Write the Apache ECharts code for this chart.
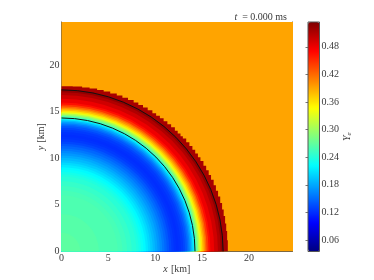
<!DOCTYPE html>
<html><head><meta charset="utf-8">
<style>html,body{margin:0;padding:0;background:#fff}#c{width:374px;height:280px}</style>
<script src="https://cdn.jsdelivr.net/npm/echarts@6/dist/echarts.min.js"></script>
</head><body><div id="c"></div>
<script>
// Radial Ye profile, outermost band first: outer radius of each band (km), and its Ye
const bandRadii = [17.3,17.0,16.7,16.3,15.9,15.7,15.5,15.35,15.2,15.05,14.9,14.75,14.6,14.45,14.3,14.15,14.0,13.85,13.7,13.55,13.4,13.2,13.0,12.75,12.5,12.25,12.0,11.75,11.5,11.25,11.0,10.75,10.5,10.25,10.0,9.75,9.5,9.25,9.0,8.75,8.5,8.25,8.0,7.5,7.0,6.5,6.0,4.0,2.0];
const bandYe    = [0.525,0.51,0.495,0.48,0.465,0.445,0.42,0.40,0.38,0.36,0.335,0.31,0.285,0.26,0.235,0.21,0.19,0.175,0.16,0.15,0.14,0.132,0.126,0.122,0.12,0.122,0.126,0.132,0.14,0.148,0.156,0.164,0.172,0.18,0.188,0.196,0.204,0.212,0.22,0.226,0.232,0.237,0.242,0.248,0.253,0.257,0.26,0.264,0.268];
// Ye outside the star and of the jagged outer shell
const ambientYe = [0.391];
const shellYe = [0.515];
// Jagged outer edge of the shell (km)
const edgeX = [0,1.2,2.2,3.0,3.8,4.5,5.2,5.9,6.5,7.1,7.7,8.2,8.7,9.2,9.7,10.1,10.5,10.9,11.3,11.7,12.1,12.4,12.7,12.95,13.31,13.65,13.97,14.27,14.56,14.83,15.15,15.44,15.71,15.96,16.24,16.48,16.71,16.94,17.14,17.31,17.46,17.58,17.68,17.75];
const edgeY = [17.72,17.68,17.58,17.46,17.31,17.14,16.94,16.71,16.48,16.24,15.96,15.71,15.44,15.15,14.83,14.56,14.27,13.97,13.65,13.31,12.95,12.66,12.36,12.1,11.7,11.3,10.9,10.5,10.1,9.7,9.2,8.7,8.2,7.7,7.1,6.5,5.9,5.2,4.5,3.8,3.0,2.2,1.2,0];
// Contour radii (km)
const contourRadii = [17.25,14.25];
const xTicks = [0,5,10,15,20];
const yTicks = [0,5,10,15,20];
const colorTicks = [0.06,0.12,0.18,0.24,0.30,0.36,0.42,0.48];
const jet = ['#00007f','#0000ff','#007fff','#00ffff','#7fff7f','#ffff00','#ff7f00','#ff0000','#7f0000'];
const yeMin = 0.035, yeMax = 0.534, spanKm = 24.6;

const FONT = 'Liberation Serif', INK = '#3a3a3a', FRAME = '#555';
const labelStyle = {fontFamily:FONT,fontSize:10,color:INK};
const nameRich = {i:{fontFamily:FONT,fontStyle:'italic',fontWeight:'normal',fontSize:10,color:INK},
                  n:{fontFamily:FONT,fontWeight:'normal',fontSize:10,color:INK},
                  s:{fontFamily:FONT,fontStyle:'italic',fontWeight:'normal',fontSize:7,color:INK,verticalAlign:'bottom',padding:[4,0,0,0]}};

function discItem(params, api){
  const c = api.coord([0,0]);
  const r = api.size([api.value(0),0])[0];
  return {type:'sector',shape:{cx:c[0],cy:c[1],r0:0,r:r,startAngle:0,endAngle:-Math.PI/2,clockwise:false},
          style:{fill:api.visual('color')}};
}
function edgeItem(params, api){
  const pts = [api.coord([0,0])];
  edgeX.forEach((x,i)=>{
    if(i>0) pts.push(api.coord([x,edgeY[i-1]]));
    pts.push(api.coord([x,edgeY[i]]));
  });
  return {type:'polygon',shape:{points:pts},style:{fill:api.visual('color')}};
}
function contourItem(params, api){
  const c = api.coord([0,0]);
  const r = api.size([api.value(0),0])[0];
  return {type:'arc',shape:{cx:c[0],cy:c[1],r:r,startAngle:0,endAngle:-Math.PI/2,clockwise:false},
          style:{stroke:'#111',lineWidth:1,fill:null}};
}
function axisBase(pos, ticks, showLabel, extra){
  return Object.assign({type:'value',position:pos,min:0,max:spanKm,gridIndex:0,splitLine:{show:false},
    axisLine:{show:true,onZero:false,lineStyle:{color:FRAME,width:1}},
    axisTick:{show:true,inside:true,length:2.5,lineStyle:{color:FRAME,width:0.8},customValues:ticks},
    axisLabel:{show:showLabel,margin:2,customValues:ticks,hideOverlap:false,showMinLabel:true,...labelStyle}},extra||{});
}
const chart = echarts.init(document.getElementById('c'),null,{renderer:'canvas'});
chart.setOption({
  animation:false,
  backgroundColor:'#fff',
  title:{text:'{i|t} {n|= 0.000 ms}',right:87,top:8,padding:0,textStyle:{rich:nameRich}},
  grid:[
    {left:61.5,top:22,width:230.5,height:229.5,containLabel:false,outerBoundsMode:'none'},
    {left:308,top:22,width:11.5,height:229.5,show:true,z:10,backgroundColor:'transparent',borderColor:FRAME,borderWidth:1,outerBoundsMode:'none'}
  ],
  xAxis:[
    axisBase('bottom',xTicks,true,{name:'{i|x} {n|[km]}',nameLocation:'middle',nameGap:12,nameMoveOverlap:false,nameTextStyle:{rich:nameRich}}),
    axisBase('top',xTicks,false),
    {type:'value',gridIndex:1,show:false,min:0,max:1}
  ],
  yAxis:[
    axisBase('left',yTicks,true,{name:'{i|y} {n|[km]}',nameLocation:'middle',nameGap:14,nameMoveOverlap:false,nameRotate:90,nameTextStyle:{rich:nameRich}}),
    axisBase('right',yTicks,false),
    {type:'value',gridIndex:1,position:'right',min:yeMin,max:yeMax,z:11,splitLine:{show:false},
     axisLine:{show:false},
     axisTick:{show:true,inside:true,length:2.5,lineStyle:{color:FRAME,width:0.8},customValues:colorTicks},
     axisLabel:{show:true,margin:2,customValues:colorTicks,formatter:v=>v.toFixed(2),...labelStyle},
     name:'{i|Y}{s|e}',nameLocation:'middle',nameGap:22,nameMoveOverlap:false,nameRotate:90,nameTextStyle:{rich:nameRich}}
  ],
  visualMap:{type:'continuous',min:yeMin,max:yeMax,dimension:1,seriesIndex:[0,1,2],
    show:true,calculable:false,hoverLink:false,left:308,top:22,itemWidth:11.5,itemHeight:229.5,padding:0,text:null,
    inRange:{color:jet}},
  series:[
    {type:'custom',coordinateSystem:'cartesian2d',xAxisIndex:0,yAxisIndex:0,clip:true,encode:{x:0,y:1},
     renderItem:discItem,data:ambientYe.map(v=>[40,v])},
    {type:'custom',coordinateSystem:'cartesian2d',xAxisIndex:0,yAxisIndex:0,clip:true,encode:{x:0,y:1},
     renderItem:edgeItem,data:shellYe.map(v=>[0,v])},
    {type:'custom',coordinateSystem:'cartesian2d',xAxisIndex:0,yAxisIndex:0,clip:true,encode:{x:0,y:1},
     renderItem:discItem,data:bandRadii.map((r,i)=>[r,bandYe[i]])},
    {type:'custom',coordinateSystem:'cartesian2d',xAxisIndex:0,yAxisIndex:0,clip:true,encode:{x:0,y:1},
     renderItem:contourItem,data:contourRadii.map(r=>[r,0])}
  ]
});
</script></body></html>
